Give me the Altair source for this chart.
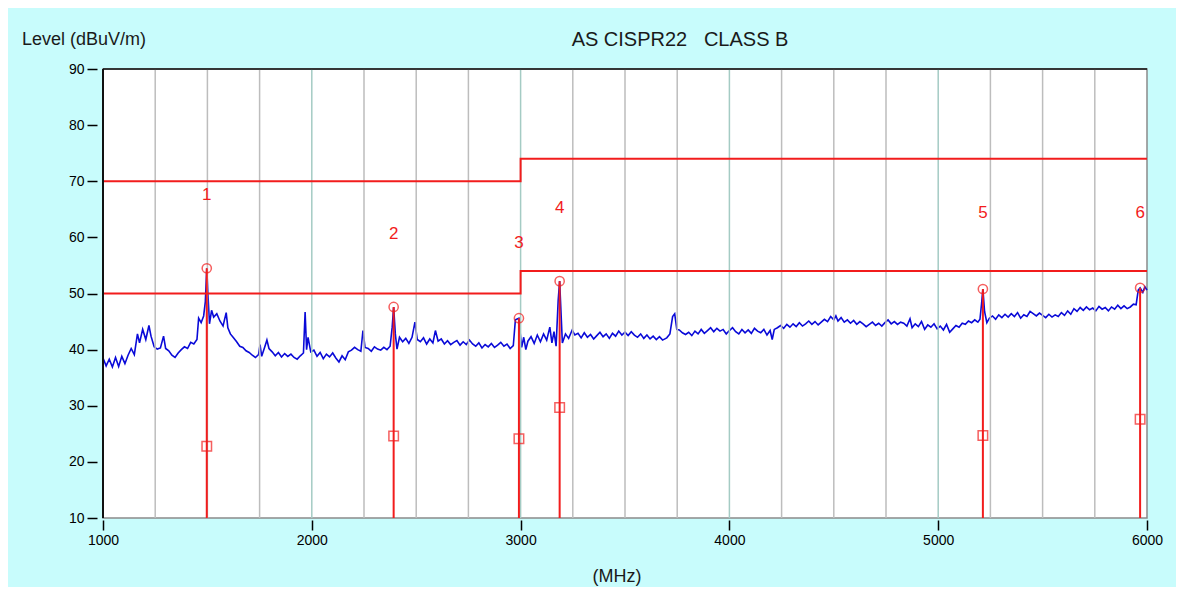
import altair as alt
import pandas as pd

trace_mhz = [
    1000, 1015, 1030, 1045, 1060, 1075, 1090, 1105, 1120, 1135,
    1150, 1165, 1175, 1190, 1205, 1220, 1230, 1245, 1260, 1275,
    1290, 1300, 1315, 1330, 1345, 1360, 1375, 1390, 1405, 1420,
    1435, 1450, 1458, 1470, 1482, 1490, 1497, 1503, 1510, 1520,
    1530, 1545, 1560, 1575, 1590, 1598, 1610, 1625, 1640, 1655,
    1670, 1685, 1700, 1715, 1730, 1745, 1752, 1760, 1775, 1785,
    1795, 1810, 1825, 1840, 1855, 1870, 1885, 1900, 1915, 1930,
    1945, 1960, 1968, 1975, 1982, 1995, 2010, 2025, 2040, 2055,
    2070, 2085, 2100, 2115, 2130, 2145, 2160, 2175, 2190, 2205,
    2220, 2235, 2245, 2255, 2270, 2285, 2300, 2315, 2330, 2345,
    2360, 2375, 2385, 2392, 2400, 2408, 2420, 2435, 2450, 2465,
    2480, 2494, 2505, 2520, 2535, 2550, 2565, 2580, 2592, 2605,
    2620, 2635, 2650, 2665, 2680, 2695, 2710, 2725, 2740, 2755,
    2770, 2785, 2800, 2815, 2830, 2845, 2860, 2875, 2890, 2905,
    2920, 2935, 2950, 2965, 2975, 2992, 2998, 3005, 3015, 3025,
    3035, 3050, 3065, 3080, 3095, 3110, 3125, 3140, 3150, 3160,
    3170, 3180, 3187, 3193, 3200, 3215, 3230, 3247, 3260, 3275,
    3290, 3305, 3320, 3335, 3350, 3365, 3380, 3395, 3410, 3425,
    3440, 3455, 3470, 3485, 3500, 3515, 3530, 3545, 3560, 3575,
    3590, 3605, 3620, 3635, 3650, 3665, 3680, 3700, 3715, 3728,
    3738, 3748, 3760, 3775, 3790, 3805, 3820, 3835, 3850, 3865,
    3880, 3895, 3910, 3925, 3940, 3955, 3970, 3985, 4000, 4015,
    4030, 4045, 4060, 4075, 4090, 4105, 4120, 4135, 4150, 4165,
    4180, 4195, 4205, 4215, 4230, 4245, 4260, 4275, 4290, 4305,
    4320, 4335, 4350, 4365, 4380, 4395, 4410, 4425, 4440, 4455,
    4470, 4485, 4500, 4510, 4520, 4535, 4550, 4565, 4580, 4595,
    4610, 4625, 4640, 4655, 4670, 4685, 4700, 4715, 4730, 4745,
    4760, 4775, 4790, 4805, 4820, 4835, 4850, 4865, 4875, 4890,
    4905, 4920, 4935, 4950, 4965, 4980, 4995, 5010, 5025, 5040,
    5055, 5070, 5085, 5100, 5115, 5130, 5145, 5160, 5175, 5190,
    5200, 5208, 5214, 5222, 5233, 5245, 5260, 5275, 5290, 5305,
    5320, 5335, 5350, 5365, 5380, 5395, 5410, 5425, 5440, 5455,
    5470, 5485, 5500, 5515, 5530, 5545, 5560, 5575, 5590, 5605,
    5620, 5635, 5650, 5665, 5680, 5695, 5710, 5725, 5740, 5755,
    5770, 5785, 5800, 5815, 5830, 5845, 5860, 5875, 5890, 5905,
    5920, 5935, 5948, 5958, 5967, 5980, 5990, 6000,
]
trace_level = [
    38.5, 37.1, 38.3, 36.9, 38.6, 37.0, 38.8, 37.5, 39.0, 40.2,
    39.1, 42.8, 41.2, 43.6, 41.8, 44.3, 42.4, 40.5, 40.1, 40.3,
    42.4, 40.2, 39.8, 39.0, 38.6, 39.4, 40.0, 40.5, 40.2, 41.3,
    41.0, 41.8, 45.6, 44.8, 46.0, 48.5, 54.5, 49.5, 44.6, 47.0,
    45.8, 46.4, 45.1, 44.2, 46.6, 43.9, 42.8, 42.1, 41.4, 40.6,
    40.4, 39.8, 39.5, 39.0, 38.6, 39.1, 40.9, 38.8, 40.5, 41.7,
    40.2, 39.6, 38.9, 39.5, 38.7, 39.3, 38.8, 39.2, 38.6, 38.3,
    38.9, 39.4, 46.7, 40.0, 42.2, 39.6, 39.9, 38.8, 39.5, 38.4,
    39.2, 38.7, 39.4, 38.5, 37.8, 38.9, 38.2, 39.6, 39.9, 40.4,
    40.0, 39.7, 43.4, 40.4, 40.2, 39.7, 40.5, 40.1, 39.9, 40.4,
    40.0, 40.6, 44.0, 47.6, 42.8, 40.1, 42.2, 41.4, 42.0, 41.1,
    42.2, 44.9, 41.8, 41.4, 42.1, 41.0, 41.9, 41.2, 43.4, 41.5,
    41.9, 41.0, 41.6, 40.9, 41.3, 41.6, 40.8, 41.4, 40.9, 41.7,
    41.0, 40.6, 41.2, 40.3, 40.9, 40.5, 41.1, 40.4, 40.8, 41.3,
    40.6, 41.0, 40.2, 40.7, 45.3, 45.6, 43.0, 40.4, 42.2, 40.0,
    41.5, 42.3, 41.1, 42.6, 41.4, 42.8, 41.7, 44.0, 41.2, 43.2,
    40.6, 48.8, 52.2, 47.1, 41.2, 42.8, 42.0, 43.5, 42.6, 42.9,
    42.1, 43.0, 42.2, 42.7, 41.9, 42.5, 43.1, 42.3, 42.8, 42.0,
    42.9, 42.4, 43.3, 42.6, 43.1, 42.5, 43.2, 42.6, 42.2, 42.8,
    42.0, 42.6, 41.9, 42.4, 41.8, 42.3, 41.7, 42.1, 42.8, 45.9,
    46.4, 43.6, 43.5, 43.0, 42.7, 43.1, 42.5, 43.3, 42.8, 43.6,
    42.9, 43.4, 43.9, 43.2, 43.8, 43.3, 43.6, 42.8, 43.4, 43.9,
    43.2, 42.8, 43.6, 43.0, 43.5, 42.9, 43.8, 43.3, 43.0, 43.6,
    42.6, 43.4, 41.8, 43.6, 43.9, 44.3, 43.8, 44.5, 44.0, 44.6,
    44.1, 44.8, 44.2, 44.6, 45.1, 44.5, 45.0, 44.4, 44.9, 45.4,
    45.0, 45.9, 45.3, 46.0, 45.1, 45.7, 44.9, 45.3, 44.7, 45.2,
    44.5, 45.0, 44.6, 44.1, 44.5, 44.9, 44.3, 44.7, 44.2, 44.8,
    45.3, 44.6, 45.0, 44.5, 44.9, 44.7, 44.2, 45.5, 43.9, 44.6,
    44.1, 45.0, 43.6, 44.4, 44.0, 44.6, 43.7, 44.2, 43.5, 44.5,
    43.1, 43.7, 44.3, 44.0, 44.7, 44.5, 45.1, 44.8, 45.3, 44.9,
    45.4, 48.3, 50.8, 46.8, 44.8, 45.6, 46.0, 45.4, 46.2, 45.7,
    46.3, 45.8, 46.4, 45.9, 46.6, 45.6, 46.2, 45.9, 46.8, 46.4,
    46.0, 46.5, 46.1, 45.7, 46.3, 45.8, 46.2, 45.9, 46.6, 46.1,
    46.9, 46.3, 47.3, 46.8, 47.5, 47.0, 47.6, 47.1, 47.4, 46.9,
    47.7, 47.2, 47.5, 46.9, 47.6, 47.2, 47.9, 47.3, 47.8, 47.3,
    47.6, 48.1, 48.0, 50.6, 51.0, 50.2, 51.2, 50.6,
]

# ---- limit lines (step at 3000 MHz) ----
limit_mhz = [1000, 3000, 6000]
peak_limit = [70, 74, 74]
avg_limit = [50, 54, 54]

# ---- markers ----
marker_no = ["1", "2", "3", "4", "5", "6"]
marker_mhz = [1497, 2392, 2992, 3187, 5214, 5967]
marker_peak = [54.5, 47.6, 45.6, 52.2, 50.8, 51.0]
marker_avg = [22.8, 24.6, 24.1, 29.7, 24.7, 27.6]
marker_label_level = [67.5, 60.6, 59.0, 65.3, 64.4, 64.4]
floor_level = 10

# ---- axis ticks / grid ----
x_ticks = [1000, 2000, 3000, 4000, 5000, 6000]
y_ticks = [10, 20, 30, 40, 50, 60, 70, 80, 90]
grid_mhz = [1250, 1500, 1750, 2000, 2250, 2500, 2750, 3000, 3250, 3500,
            3750, 4000, 4250, 4500, 4750, 5000, 5250, 5500, 5750]

FONT = "Liberation Sans"
RED = "#f21c1c"
BLUE = "#0a0ad8"
NB = "\u00a0"

trace_df = pd.DataFrame({"f": trace_mhz, "v": trace_level})
limit_df = pd.DataFrame({"f": limit_mhz, "pk": peak_limit, "av": avg_limit})
marker_df = pd.DataFrame({
    "no": marker_no, "f": marker_mhz, "pk": marker_peak,
    "av": marker_avg, "ly": marker_label_level,
    "lo": [floor_level] * len(marker_no),
})
grid_df = pd.DataFrame({"f": grid_mhz, "major": [g % 1000 == 0 for g in grid_mhz]})

xs = alt.Scale(domain=[1000, 6000], nice=False, zero=False)
ys = alt.Scale(domain=[10, 90], nice=False, zero=False)

x_axis = alt.Axis(values=x_ticks, format="d", title=None, domain=False, grid=False,
                  tickSize=10, tickColor="black", tickWidth=1.5, offset=2,
                  labelFontSize=14, labelFont=FONT, labelColor="black", labelPadding=3,
                  labelFlush=False)
y_axis = alt.Axis(values=y_ticks, title=None, domain=False, grid=False,
                  tickSize=10, tickColor="black", tickWidth=1.5, offset=6,
                  labelFontSize=14, labelFont=FONT, labelColor="black", labelPadding=3,
                  labelFlush=False)

# base layer carries both axes
trace = alt.Chart(trace_df).mark_line(color=BLUE, strokeWidth=1.6).encode(
    x=alt.X("f:Q", scale=xs, axis=x_axis),
    y=alt.Y("v:Q", scale=ys, axis=y_axis),
    order="f:Q",
)

grid = alt.Chart(grid_df).mark_rule(strokeWidth=1.5).encode(
    x=alt.X("f:Q"),
    color=alt.Color("major:N", scale=alt.Scale(domain=[True, False], range=["#a4cbc4", "#bdbdbd"]), legend=None),
)

pk_line = alt.Chart(limit_df).mark_line(color=RED, strokeWidth=2, interpolate="step-after").encode(
    x=alt.X("f:Q"), y=alt.Y("pk:Q"))
av_line = alt.Chart(limit_df).mark_line(color=RED, strokeWidth=2, interpolate="step-after").encode(
    x=alt.X("f:Q"), y=alt.Y("av:Q"))

stems = alt.Chart(marker_df).mark_rule(color=RED, strokeWidth=2).encode(
    x=alt.X("f:Q"), y=alt.Y("lo:Q"), y2="pk:Q")

circles = alt.Chart(marker_df).mark_point(shape="circle", filled=False, color=RED,
                                           size=85, strokeWidth=1.5).encode(
    x=alt.X("f:Q"), y=alt.Y("pk:Q"))
squares = alt.Chart(marker_df).mark_point(shape="square", filled=False, color=RED,
                                           size=90, strokeWidth=1.5).encode(
    x=alt.X("f:Q"), y=alt.Y("av:Q"))
labels = alt.Chart(marker_df).mark_text(color=RED, fontSize=17, font=FONT).encode(
    x=alt.X("f:Q"), y=alt.Y("ly:Q"), text="no:N")

one = alt.Data(values=[{"k": 1}])
frame_left = alt.Chart(one).mark_rule(color="#111111", strokeWidth=2).encode(
    x=alt.value(0), y=alt.value(0), y2=alt.value(449))
frame_top = alt.Chart(one).mark_rule(color="#111111", strokeWidth=1.5).encode(
    x=alt.value(0), x2=alt.value(1044), y=alt.value(0))

title_txt = alt.Chart(one).mark_text(text=f"AS CISPR22{NB}{NB}{NB}CLASS B", fontSize=20, font=FONT,
                                     color="#1a1a1a", align="center", baseline="middle").encode(
    x=alt.value(577), y=alt.value(-29))
ytitle_txt = alt.Chart(one).mark_text(text="Level (dBuV/m)", fontSize=18, font=FONT,
                                      color="#1a1a1a", align="left", baseline="middle").encode(
    x=alt.value(-81), y=alt.value(-29))
xtitle_txt = alt.Chart(one).mark_text(text="(MHz)", fontSize=18, font=FONT,
                                      color="#1a1a1a", align="center", baseline="middle").encode(
    x=alt.value(514), y=alt.value(508))

chart = alt.layer(
    trace, grid, pk_line, av_line, stems, circles, squares, labels,
    frame_left, frame_top, title_txt, ytitle_txt, xtitle_txt,
).properties(
    width=1044, height=449,
    padding={"left": 95, "top": 61, "right": 29, "bottom": 69},
    autosize=alt.AutoSizeParams(type="none"),
    background="#c8fcfc",
).configure_view(
    stroke="#8a8a8a", strokeWidth=1.5, fill="white",
)

chart.save("out.html", embed_options={"renderer": "svg", "actions": False})
